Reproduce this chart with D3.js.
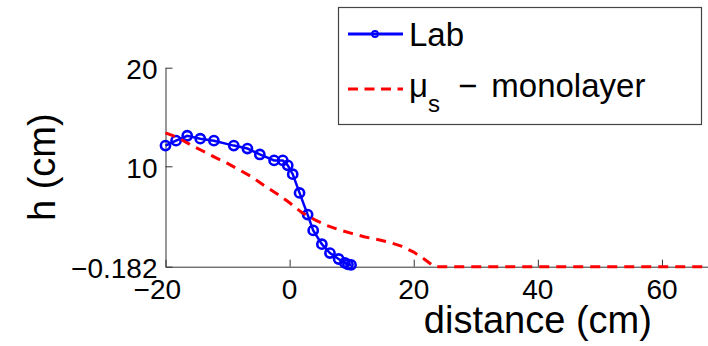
<!DOCTYPE html>
<html>
<head>
<meta charset="utf-8">
<script src="https://cdn.jsdelivr.net/npm/d3@7"></script>
<style>
  body { margin: 0; background: #fff; }
  svg { display: block; }
  text { font-family: "Liberation Sans", Arial, Helvetica, sans-serif; fill: #000; }
</style>
</head>
<body>
<svg id="chart" width="708" height="346"></svg>
<script>
// Lab measurements: free-surface height h (cm) against distance (cm)
const labDistance = [-20.0, -18.3, -16.5, -14.4, -12.2, -9.0, -6.8, -4.8, -2.5, -1.1,
                     -0.3, 0.5, 1.6, 2.9, 3.8, 5.2, 6.5, 7.9, 8.9, 9.4, 9.9];
const labHeight   = [12.1, 12.6, 13.1, 12.8, 12.6, 12.1, 11.8, 11.2, 10.6, 10.6,
                     10.1, 9.2, 7.3, 5.1, 3.5, 2.1, 1.2, 0.6, 0.2, 0.05, 0.0];

// Monolayer model with static friction coefficient mu_s
const monoDistance = [-20, -18, -16, -14, -12, -10, -8, -6, -4, -2, 0, 2, 4, 6, 8,
                      10, 12, 14, 16, 18, 20, 22, 23.3, 100];
const monoHeight   = [13.4, 12.9, 12.2, 11.55, 10.9, 10.3, 9.6, 8.9, 8.0, 7.2, 6.3, 5.3,
                      4.6, 4.0, 3.55, 3.2, 2.85, 2.6, 2.3, 1.9, 1.3, 0.45, -0.182, -0.182];

const xTicks = [-20, 0, 20, 40, 60, 80, 100];
const yTicks = [-0.182, 10, 20];
const yTickLabels = ["\u22120.182", "10", "20"];
const xTitle = "distance (cm)";
const yTitle = "h (cm)";
const seriesNames = ["Lab", "monolayer"];

const W = 708;
const svg = d3.select("#chart");
const x = d3.scaleLinear().domain([-20, 100]).range([165.5, 910.2]);
const y = d3.scaleLinear().domain([-0.182, 20]).range([266.7, 67.7]);
const axisColor = "#333";

// Axes: MATLAB style, ticks pointing inward, no box
const gx = svg.append("g").attr("transform", `translate(0,${y(-0.182)})`)
  .call(d3.axisBottom(x).tickValues(xTicks).tickSize(-7).tickSizeOuter(0).tickFormat(""));
const gy = svg.append("g").attr("transform", `translate(${x(-20)},0)`)
  .call(d3.axisLeft(y).tickValues(yTicks).tickSize(-7).tickSizeOuter(0).tickFormat(""));
[gx, gy].forEach(g => {
  g.select(".domain").attr("stroke", axisColor).attr("stroke-width", 1);
  g.selectAll(".tick line").attr("stroke", axisColor).attr("stroke-width", 1);
});

// X tick labels (only those inside the drawing): digits centred on the tick,
// minus sign hanging to the left
const xl = svg.append("g").attr("font-size", 28);
xTicks.filter(v => x(v) < W).forEach(v => {
  const digits = xl.append("text")
    .attr("x", x(v)).attr("y", y(-0.182) + 32.3)
    .attr("text-anchor", "middle").text(String(Math.abs(v)));
  if (v < 0) {
    const w = digits.node().getComputedTextLength();
    xl.append("text")
      .attr("x", x(v) - w / 2).attr("y", y(-0.182) + 32.3)
      .attr("text-anchor", "end").text("\u2212");
  }
});

// Y tick labels
svg.append("g").attr("font-size", 28).selectAll("text")
  .data(yTicks).join("text")
  .attr("x", x(-20) - 8)
  .attr("y", d => y(d) + 11.5)
  .attr("text-anchor", "end")
  .text((d, i) => yTickLabels[i]);

// Axis titles
svg.append("text").attr("font-size", 38)
  .attr("x", x(40)).attr("y", 333)
  .attr("text-anchor", "middle").text(xTitle);
svg.append("text").attr("font-size", 38)
  .attr("transform", `translate(55,${(y(-0.182) + y(20)) / 2}) rotate(-90)`)
  .attr("text-anchor", "middle").text(yTitle);

// Series
const line = d3.line().x(d => x(d[0])).y(d => y(d[1]));
const labPts = labDistance.map((d, i) => [d, labHeight[i]]);
const monoPts = monoDistance.map((d, i) => [d, monoHeight[i]]);

svg.append("path").datum(labPts)
  .attr("d", line).attr("fill", "none")
  .attr("stroke", "#0000ff").attr("stroke-width", 2.5);
svg.append("g").selectAll("circle").data(labPts).join("circle")
  .attr("cx", d => x(d[0])).attr("cy", d => y(d[1])).attr("r", 4.6)
  .attr("fill", "none").attr("stroke", "#0000ff").attr("stroke-width", 2.6);

svg.append("path").datum(monoPts)
  .attr("d", line).attr("fill", "none")
  .attr("stroke", "#ff0000").attr("stroke-width", 3)
  .attr("stroke-dasharray", "10,7");

// Legend
const lg = svg.append("g");
lg.append("rect").attr("x", 338.5).attr("y", 7.5).attr("width", 363).attr("height", 117)
  .attr("fill", "#fff").attr("stroke", "#444").attr("stroke-width", 1.2);
lg.append("line").attr("x1", 348).attr("x2", 403).attr("y1", 34).attr("y2", 34)
  .attr("stroke", "#0000ff").attr("stroke-width", 3);
lg.append("circle").attr("cx", 375).attr("cy", 34).attr("r", 3)
  .attr("fill", "none").attr("stroke", "#0000ff").attr("stroke-width", 1.8);
lg.append("text").attr("x", 409).attr("y", 46).attr("font-size", 33).text(seriesNames[0]);

lg.append("line").attr("x1", 348).attr("x2", 403).attr("y1", 89).attr("y2", 89)
  .attr("stroke", "#ff0000").attr("stroke-width", 3).attr("stroke-dasharray", "10,6.5");
const t2 = lg.append("text").attr("x", 409).attr("y", 97).attr("font-size", 33);
t2.append("tspan").text("\u03bc");
t2.append("tspan").attr("font-size", 24).attr("dy", 15).text("s");
t2.append("tspan").attr("dy", -15).attr("dx", 18).text("\u2212");
t2.append("tspan").attr("dx", 14).text(seriesNames[1]);
</script>
</body>
</html>
